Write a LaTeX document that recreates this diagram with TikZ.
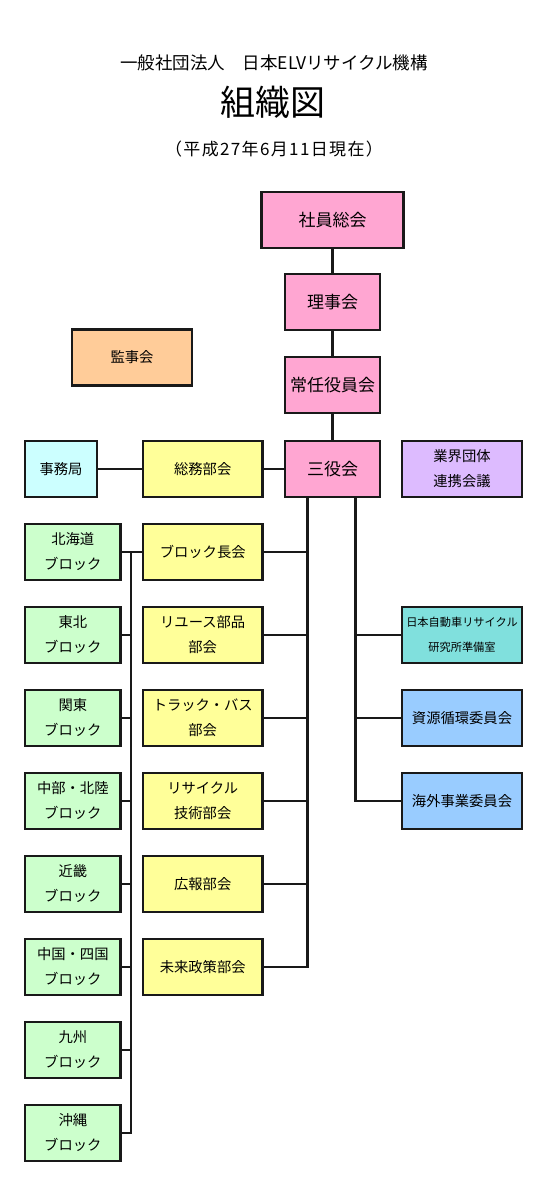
\documentclass[tikz,border=0pt]{standalone}
\usepackage{fontspec}
\setmainfont{Noto Sans CJK JP}
\newfontfamily\jp{Noto Sans CJK JP}
\newfontfamily\jpwide[LetterSpace=8]{Noto Sans CJK JP}
\definecolor{cpink}{HTML}{FFA6D2}
\definecolor{cyellow}{HTML}{FFFF99}
\definecolor{cgreen}{HTML}{CCFFCC}
\definecolor{ccyan}{HTML}{CCFFFF}
\definecolor{cpurple}{HTML}{DDBBFF}
\definecolor{cteal}{HTML}{80E0DD}
\definecolor{cblue}{HTML}{99CCFF}
\definecolor{corange}{HTML}{FFCC99}
\tikzset{
  box/.style={draw=black!90, line width=2.4pt, minimum height=56pt, inner sep=0pt,
    align=center, font=\jp\fontsize{14.3}{25}\selectfont},
  pinkbox/.style={box, fill=cpink, font=\jp\fontsize{17}{25}\selectfont},
  yellowbox/.style={box, fill=cyellow, minimum width=119.5pt},
  greenbox/.style={box, fill=cgreen, minimum width=95.4pt},
  rightbox/.style={box, minimum width=119.5pt},
  conn/.style={line width=2.2pt, draw=black!90},
}
\begin{document}
\begin{tikzpicture}[x=1pt,y=-1pt]
\useasboundingbox (0,0) rectangle (540,1182);
% titles
\node[font=\jp\fontsize{17.5}{20}\selectfont] (t1) at (274,63) {一般社団法人\hspace{1em}日本ELVリサイクル機構};
\node[font=\jp\fontsize{35}{38}\selectfont] (t2) at (273,102) {組織図};
\node[font=\jpwide\fontsize{17}{20}\selectfont] (t3) at (274,149) {（平成27年6月11日現在）};
% top pink chain
\node[pinkbox, minimum width=142pt] (shain) at (332.5,220) {社員総会};
\node[pinkbox, minimum width=95pt] (riji) at (332.5,302) {理事会};
\node[pinkbox, minimum width=95pt] (jonin) at (332.5,385) {常任役員会};
\node[pinkbox, minimum width=95pt] (sanyaku) at (332.5,469) {三役会};
\node[box, fill=corange, minimum width=120pt] (kanji) at (132,357.5) {監事会};
\node[box, fill=ccyan, minimum width=72pt] (jimu) at (61,469) {事務局};
\node[yellowbox] (soumu) at (202.7,469) {総務部会};
\node[rightbox, fill=cpurple] (gyokai) at (462,469) {業界団体\\連携会議};
% yellow column
\node[yellowbox] (block) at (202.7,552) {ブロック長会};
\node[yellowbox] (reuse) at (202.7,635) {リユース部品\\部会};
\node[yellowbox] (truck) at (202.7,718) {トラック・バス\\部会};
\node[yellowbox] (recycle) at (202.7,801) {リサイクル\\技術部会};
\node[yellowbox] (kouhou) at (202.7,884) {広報部会};
\node[yellowbox] (mirai) at (202.7,967) {未来政策部会};
% green column
\node[greenbox] (hokkaido) at (72.8,552) {北海道\\ブロック};
\node[greenbox] (tohoku) at (72.8,635) {東北\\ブロック};
\node[greenbox] (kanto) at (72.8,718) {関東\\ブロック};
\node[greenbox] (chubu) at (72.8,801) {中部・北陸\\ブロック};
\node[greenbox] (kinki) at (72.8,884) {近畿\\ブロック};
\node[greenbox] (chugoku) at (72.8,967) {中国・四国\\ブロック};
\node[greenbox] (kyushu) at (72.8,1050) {九州\\ブロック};
\node[greenbox] (okinawa) at (72.8,1133) {沖縄\\ブロック};
% right column
\node[rightbox, fill=cteal, font=\jp\fontsize{11.2}{25}\selectfont] (jarc) at (462,635) {日本自動車リサイクル\\研究所準備室};
\node[rightbox, fill=cblue] (shigen) at (462,718) {資源循環委員会};
\node[rightbox, fill=cblue] (kaigai) at (462,801) {海外事業委員会};
% bus coordinates
\coordinate (busC) at (307.5,0);
\coordinate (busR) at (355.4,0);
\coordinate (busL) at (130.9,0);
% connectors
\draw[conn] (shain.south) -- (riji.north);
\draw[conn] (riji.south) -- (jonin.north);
\draw[conn] (jonin.south) -- (sanyaku.north);
\draw[conn] (jimu.east) -- (soumu.west);
\draw[conn] (soumu.east) -- (sanyaku.west);
\draw[conn] (sanyaku.south -| busC) |- (mirai.east);
\foreach \n in {block,reuse,truck,recycle,kouhou}
  \draw[conn] (\n.east) -- (\n.east -| busC);
\draw[conn] (sanyaku.south -| busR) |- (kaigai.west);
\foreach \n in {jarc,shigen}
  \draw[conn] (\n.west) -- (\n.west -| busR);
\draw[conn] (hokkaido.east) -- (block.west);
\draw[conn] (hokkaido.east -| busL) |- (okinawa.east);
\foreach \n in {tohoku,kanto,chubu,kinki,chugoku,kyushu}
  \draw[conn] (\n.east) -- (\n.east -| busL);
\end{tikzpicture}
\end{document}
